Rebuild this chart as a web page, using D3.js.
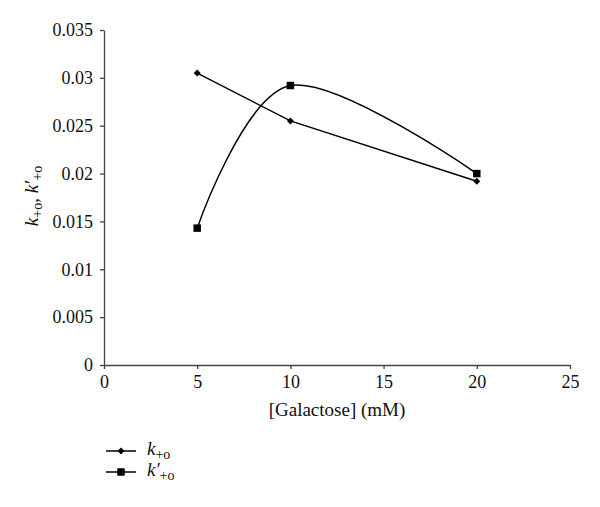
<!DOCTYPE html>
<html>
<head>
<meta charset="utf-8">
<script src="https://cdn.jsdelivr.net/npm/d3@7"></script>
<style>
  body { margin: 0; background: #fff; }
</style>
</head>
<body>
<div id="chart"></div>
<script>
// datos
const galactose = [5, 10, 20];
const kPlus = [0.0305, 0.0255, 0.0192];
const kPrime = [0.0143, 0.0292, 0.0200];
const xTicks = [0, 5, 10, 15, 20, 25];
const yTicks = [0, 0.005, 0.01, 0.015, 0.02, 0.025, 0.03, 0.035];

const serif = "'Liberation Serif', 'DejaVu Serif', serif";
const totalWidth = 600;
const totalHeight = 507;
const margins = { top: 30, right: 30, bottom: 142, left: 104 };
const chartHeight = totalHeight - margins.top - margins.bottom;

const svg = d3.select("#chart")
  .append("svg")
  .attr("width", totalWidth)
  .attr("height", totalHeight)
  .attr("font-family", serif);

const g = svg.append("g")
  .attr("transform", `translate(${margins.left}, ${margins.top})`);

const x = d3.scaleLinear().domain([0, 25]).range([0, 466]);
const y = d3.scaleLinear().domain([0, 0.035]).range([chartHeight, 0]);

// ejes
const xAxis = g.append("g")
  .attr("transform", `translate(0, ${chartHeight})`)
  .call(d3.axisBottom(x).tickValues(xTicks).tickSizeInner(4).tickSizeOuter(0).tickPadding(6).tickFormat(d3.format("d")));

const yAxis = g.append("g")
  .call(d3.axisLeft(y).tickValues(yTicks).tickSizeInner(4).tickSizeOuter(0).tickPadding(7).tickFormat((d) => (d === 0 ? "0" : String(+d.toFixed(3)))));

[xAxis, yAxis].forEach((a) => {
  a.attr("font-family", serif).attr("font-size", 18);
  a.selectAll("path, line").attr("stroke", "#444").attr("stroke-width", 1.3);
  a.selectAll("text").attr("fill", "#111");
});

// series
const ptsK = galactose.map((d, i) => [x(d), y(kPlus[i])]);
const ptsKp = galactose.map((d, i) => [x(d), y(kPrime[i])]);

g.append("path")
  .attr("d", d3.line().curve(d3.curveLinear)(ptsK))
  .attr("fill", "none")
  .attr("stroke", "#000")
  .attr("stroke-width", 1.5);

g.append("path")
  .attr("d", d3.line().curve(d3.curveCardinal.tension(0))(ptsKp))
  .attr("fill", "none")
  .attr("stroke", "#000")
  .attr("stroke-width", 1.5);

const diamond = d3.symbol().type(d3.symbolSquare).size(24);
const square = d3.symbol().type(d3.symbolSquare).size(56);

g.selectAll(".mk")
  .data(ptsK)
  .enter()
  .append("path")
  .attr("class", "mk")
  .attr("transform", (d) => `translate(${d[0]}, ${d[1]}) rotate(45)`)
  .attr("d", diamond)
  .attr("fill", "#000");

g.selectAll(".mkp")
  .data(ptsKp)
  .enter()
  .append("path")
  .attr("class", "mkp")
  .attr("transform", (d) => `translate(${d[0]}, ${d[1]})`)
  .attr("d", square)
  .attr("fill", "#000");

// etiquetas de ejes
g.append("text")
  .attr("x", 233)
  .attr("y", chartHeight + 51)
  .attr("text-anchor", "middle")
  .attr("fill", "#111")
  .style("font-size", "19px")
  .text("[Galactose] (mM)");

const yl = svg.append("text")
  .attr("transform", `translate(38, ${margins.top + 166}) rotate(-90)`)
  .attr("text-anchor", "middle")
  .attr("fill", "#111")
  .style("font-size", "19px");
yl.append("tspan").style("font-style", "italic").text("k");
yl.append("tspan").attr("dy", 4).style("font-size", "14px").text("+o");
yl.append("tspan").attr("dy", -4).text(", ");
yl.append("tspan").style("font-style", "italic").text("k′");
yl.append("tspan").attr("dy", 4).style("font-size", "14px").text("+o");

// leyenda
const legend = [
  { sym: diamond, rot: 45, label: "k", y: 451 },
  { sym: square, rot: 0, label: "k′", y: 472 },
];
legend.forEach((l) => {
  svg.append("line")
    .attr("x1", 106).attr("x2", 136)
    .attr("y1", l.y).attr("y2", l.y)
    .attr("stroke", "#000").attr("stroke-width", 1.5);
  svg.append("path")
    .attr("transform", `translate(121, ${l.y}) rotate(${l.rot})`)
    .attr("d", l.sym)
    .attr("fill", "#000");
  const t = svg.append("text")
    .attr("x", 147)
    .attr("y", l.y + 4)
    .attr("fill", "#111")
    .style("font-size", "19px");
  t.append("tspan").style("font-style", "italic").text(l.label);
  t.append("tspan").attr("dy", 4).style("font-size", "14px").text("+o");
});
</script>
</body>
</html>
